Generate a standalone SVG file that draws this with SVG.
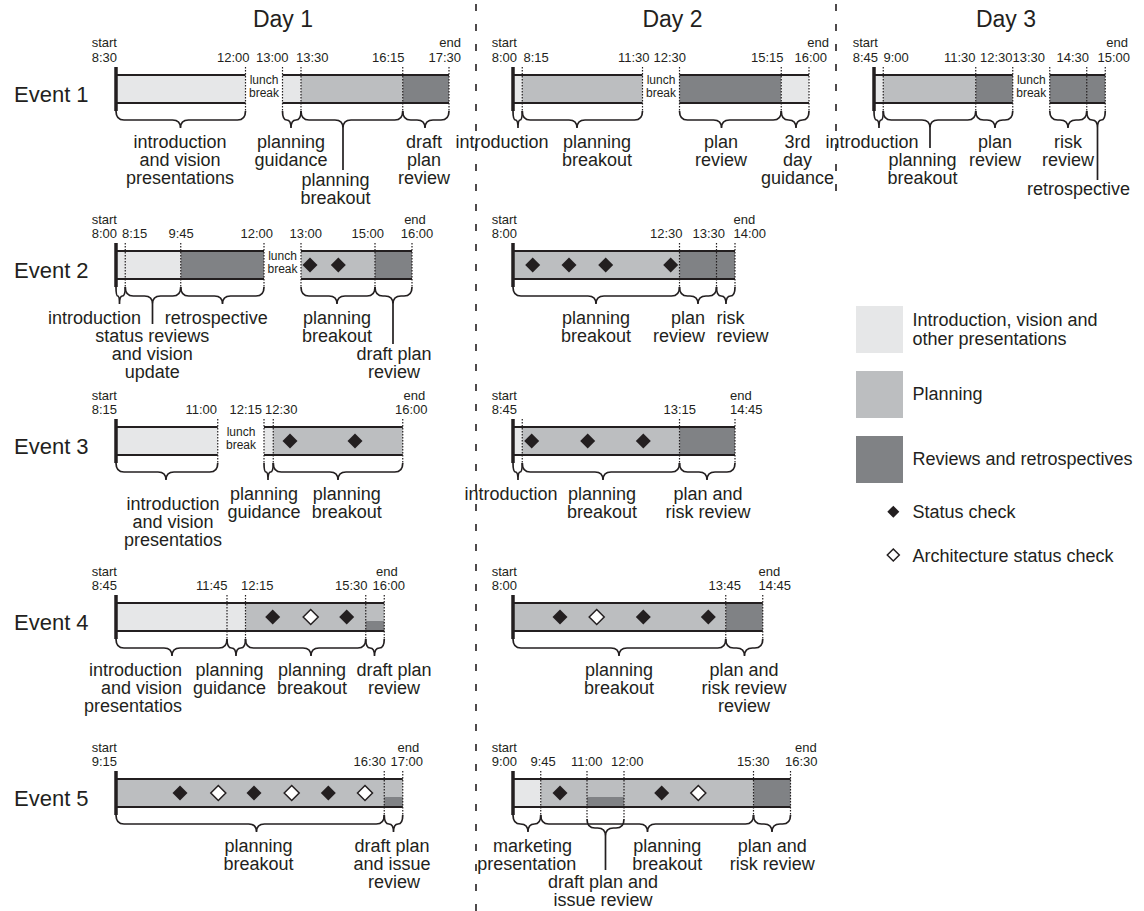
<svg xmlns="http://www.w3.org/2000/svg" width="1144" height="911" viewBox="0 0 1144 911">
<style>
text{font-family:"Liberation Sans",Arial,sans-serif;fill:#231f20}
.title{font-size:23px;text-anchor:middle}
.ev{font-size:22px}
.tm{font-size:13px}
.lab{font-size:18px;text-anchor:middle}
.lg{font-size:18px}
.lu{font-size:12px;text-anchor:middle}
.e{text-anchor:end}
.m{text-anchor:middle}
.s{text-anchor:start}
.lt{fill:#e6e7e8}
.md{fill:#bcbec0}
.dk{fill:#808285}
.edge{stroke:#231f20;stroke-width:2;fill:none}
.st{stroke:#231f20;stroke-width:3.5;fill:none}
.dot{stroke:#231f20;stroke-width:1.2;stroke-dasharray:1.5 1.5;fill:none}
.brace{stroke:#231f20;stroke-width:1.7;fill:none}
.sep{stroke:#231f20;stroke-width:1.6;stroke-dasharray:7 13;fill:none}
.bd{fill:#231f20}
.wd{fill:#fff;stroke:#231f20;stroke-width:1.5}
</style>
<defs>
<path id="dia" d="M0 -7.5L7.5 0L0 7.5L-7.5 0Z"/>
<path id="dias" d="M0 -6L6 0L0 6L-6 0Z"/>
</defs>

<g id="separators">
<path class="sep" d="M476 4V911M836 4V200"/>
</g>

<g id="titles">
<text class="title" x="283" y="27">Day 1</text>
<text class="title" x="672.5" y="27">Day 2</text>
<text class="title" x="1006" y="27">Day 3</text>
<text class="ev" x="14" y="101.5">Event 1</text>
<text class="ev" x="14" y="277.5">Event 2</text>
<text class="ev" x="14" y="453.5">Event 3</text>
<text class="ev" x="14" y="629.5">Event 4</text>
<text class="ev" x="14" y="805.5">Event 5</text>
</g>

<!-- Event 1 Day 1 -->
<g id="e1d1">
<rect class="lt" x="116" y="75" width="129.5" height="28"/>
<rect class="lt" x="282.5" y="75" width="18.5" height="28"/>
<rect class="md" x="301" y="75" width="101.75" height="28"/>
<rect class="dk" x="402.75" y="75" width="46.25" height="28"/>
<path class="edge" d="M116 75H245.5M116 103H245.5M282.5 75H449M282.5 103H449"/>
<path class="dot" d="M245.5 67V111M282.5 67V111M301 67V111M402.75 67V111M449 67V111"/>
<path class="st" d="M116 67V111"/>
<text class="tm e" x="117" y="47">start</text><text class="tm e" x="117" y="62">8:30</text>
<text class="tm" x="217" y="62">12:00</text>
<text class="tm" x="256" y="62">13:00</text>
<text class="tm" x="296" y="62">13:30</text>
<text class="tm" x="372" y="62">16:15</text>
<text class="tm e" x="461" y="47">end</text><text class="tm e" x="461" y="62">17:30</text>
<text class="lu" x="264" y="83.5">lunch</text><text class="lu" x="264" y="96.5">break</text>
<text class="lab" x="180" y="148">introduction</text><text class="lab" x="180" y="166">and vision</text><text class="lab" x="180" y="184">presentations</text>
<text class="lab" x="291" y="148">planning</text><text class="lab" x="291" y="166">guidance</text>
<text class="lab" x="335.5" y="186">planning</text><text class="lab" x="335.5" y="204">breakout</text>
<text class="lab" x="424" y="148">draft</text><text class="lab" x="424" y="166">plan</text><text class="lab" x="424" y="184">review</text>
</g>

<!-- Event 1 Day 2 -->
<g id="e1d2">
<rect class="lt" x="513" y="75" width="9.25" height="28"/>
<rect class="md" x="522.25" y="75" width="120.25" height="28"/>
<rect class="dk" x="679.5" y="75" width="101.75" height="28"/>
<rect class="lt" x="781.25" y="75" width="27.75" height="28"/>
<path class="edge" d="M513 75H642.5M513 103H642.5M679.5 75H809M679.5 103H809"/>
<path class="dot" d="M522.25 67V111M642.5 67V111M679.5 67V111M781.25 67V111M809 67V111"/>
<path class="st" d="M513 67V111"/>
<text class="tm e" x="517" y="47">start</text><text class="tm e" x="517" y="62">8:00</text>
<text class="tm" x="523.5" y="62">8:15</text>
<text class="tm" x="618" y="62">11:30</text>
<text class="tm" x="653.5" y="62">12:30</text>
<text class="tm" x="751" y="62">15:15</text>
<text class="tm e" x="829" y="47">end</text><text class="tm e" x="827" y="62">16:00</text>
<text class="lu" x="661" y="83.5">lunch</text><text class="lu" x="661" y="96.5">break</text>
<text class="lab" x="502" y="148">introduction</text>
<text class="lab" x="597" y="148">planning</text><text class="lab" x="597" y="166">breakout</text>
<text class="lab" x="721" y="148">plan</text><text class="lab" x="721" y="166">review</text>
<text class="lab" x="797.5" y="148">3rd</text><text class="lab" x="797.5" y="166">day</text><text class="lab" x="797.5" y="184">guidance</text>
</g>

<!-- Event 1 Day 3 -->
<g id="e1d3">
<rect class="lt" x="874" y="75" width="9.25" height="28"/>
<rect class="md" x="883.25" y="75" width="92.5" height="28"/>
<rect class="dk" x="975.75" y="75" width="37" height="28"/>
<rect class="dk" x="1049.75" y="75" width="55.5" height="28"/>
<path class="edge" d="M874 75H1012.75M874 103H1012.75M1049.75 75H1105.25M1049.75 103H1105.25"/>
<path class="dot" d="M883.25 67V111M975.75 67V111M1012.75 67V111M1049.75 67V111M1086.75 67V111M1105.25 67V111"/>
<path class="st" d="M874 67V111"/>
<text class="tm e" x="878" y="47">start</text><text class="tm e" x="878" y="62">8:45</text>
<text class="tm" x="883.5" y="62">9:00</text>
<text class="tm" x="944" y="62">11:30</text>
<text class="tm" x="980" y="62">12:30</text>
<text class="tm" x="1012.5" y="62">13:30</text>
<text class="tm" x="1056.5" y="62">14:30</text>
<text class="tm e" x="1128" y="47">end</text><text class="tm e" x="1130" y="62">15:00</text>
<text class="lu" x="1031.25" y="83.5">lunch</text><text class="lu" x="1031.25" y="96.5">break</text>
<text class="lab" x="872" y="148">introduction</text>
<text class="lab" x="922.5" y="166">planning</text><text class="lab" x="922.5" y="184">breakout</text>
<text class="lab" x="995" y="148">plan</text><text class="lab" x="995" y="166">review</text>
<text class="lab" x="1068" y="148">risk</text><text class="lab" x="1068" y="166">review</text>
<text class="lab" x="1078.5" y="195">retrospective</text>
</g>

<!-- Event 2 Day 1 -->
<g id="e2d1">
<rect class="lt" x="116" y="251" width="64.75" height="28"/>
<rect class="dk" x="180.75" y="251" width="83.25" height="28"/>
<rect class="md" x="301" y="251" width="74" height="28"/>
<rect class="dk" x="375" y="251" width="37" height="28"/>
<path class="edge" d="M116 251H264M116 279H264M301 251H412M301 279H412"/>
<path class="dot" d="M125.25 243V287M180.75 243V287M264 243V287M301 243V287M375 243V287M412 243V287"/>
<path class="st" d="M116 243V287"/>
<use href="#dia" class="bd" x="310" y="265"/><use href="#dia" class="bd" x="338.3" y="265"/>
<text class="tm e" x="117" y="224">start</text><text class="tm e" x="117" y="238">8:00</text>
<text class="tm" x="122" y="238">8:15</text>
<text class="tm" x="168.5" y="238">9:45</text>
<text class="tm" x="240.5" y="238">12:00</text>
<text class="tm" x="289.5" y="238">13:00</text>
<text class="tm" x="351.5" y="238">15:00</text>
<text class="tm m" x="415" y="224">end</text><text class="tm m" x="417" y="238">16:00</text>
<text class="lu" x="282.5" y="259.5">lunch</text><text class="lu" x="282.5" y="272.5">break</text>
<text class="lab" x="94.5" y="324">introduction</text>
<text class="lab" x="216.3" y="324">retrospective</text>
<text class="lab" x="152.3" y="342">status reviews</text><text class="lab" x="152.3" y="360">and vision</text><text class="lab" x="152.3" y="378">update</text>
<text class="lab" x="337" y="324">planning</text><text class="lab" x="337" y="342">breakout</text>
<text class="lab" x="394" y="360">draft plan</text><text class="lab" x="394" y="378">review</text>
</g>

<!-- Event 2 Day 2 -->
<g id="e2d2">
<rect class="md" x="513" y="251" width="166.5" height="28"/>
<rect class="dk" x="679.5" y="251" width="55.5" height="28"/>
<path class="edge" d="M513 251H735M513 279H735"/>
<path class="dot" d="M679.5 243V287M716.5 243V287M735 243V287"/>
<path class="st" d="M513 243V287"/>
<use href="#dia" class="bd" x="532.7" y="265"/><use href="#dia" class="bd" x="569" y="265"/><use href="#dia" class="bd" x="605.7" y="265"/><use href="#dia" class="bd" x="670.7" y="265"/>
<text class="tm e" x="517" y="224">start</text><text class="tm e" x="517" y="238">8:00</text>
<text class="tm" x="650" y="238">12:30</text>
<text class="tm" x="692.5" y="238">13:30</text>
<text class="tm" x="733.5" y="224">end</text><text class="tm" x="733.5" y="238">14:00</text>
<text class="lab" x="596" y="324">planning</text><text class="lab" x="596" y="342">breakout</text>
<text class="lab e" x="705" y="324">plan</text><text class="lab e" x="705" y="342">review</text>
<text class="lab s" x="716.5" y="324">risk</text><text class="lab s" x="716.5" y="342">review</text>
</g>

<!-- Event 3 Day 1 -->
<g id="e3d1">
<rect class="lt" x="116" y="427" width="101.75" height="28"/>
<rect class="lt" x="264" y="427" width="9.25" height="28"/>
<rect class="md" x="273.25" y="427" width="129.5" height="28"/>
<path class="edge" d="M116 427H217.75M116 455H217.75M264 427H402.75M264 455H402.75"/>
<path class="dot" d="M217.75 419V463M264 419V463M273.25 419V463M402.75 419V463"/>
<path class="st" d="M116 419V463"/>
<use href="#dia" class="bd" x="290" y="441"/><use href="#dia" class="bd" x="355" y="441"/>
<text class="tm e" x="117" y="400">start</text><text class="tm e" x="117" y="414">8:15</text>
<text class="tm" x="185.5" y="414">11:00</text>
<text class="tm" x="229.5" y="414">12:15</text>
<text class="tm" x="265" y="414">12:30</text>
<text class="tm" x="403.5" y="400">end</text><text class="tm" x="395" y="414">16:00</text>
<text class="lu" x="241" y="435.5">lunch</text><text class="lu" x="241" y="448.5">break</text>
<text class="lab" x="173" y="510">introduction</text><text class="lab" x="173" y="528">and vision</text><text class="lab" x="173" y="546">presentatios</text>
<text class="lab" x="264" y="500">planning</text><text class="lab" x="264" y="518">guidance</text>
<text class="lab" x="346.7" y="500">planning</text><text class="lab" x="346.7" y="518">breakout</text>
</g>

<!-- Event 3 Day 2 -->
<g id="e3d2">
<rect class="lt" x="513" y="427" width="9.25" height="28"/>
<rect class="md" x="522.25" y="427" width="157.25" height="28"/>
<rect class="dk" x="679.5" y="427" width="55.5" height="28"/>
<path class="edge" d="M513 427H735M513 455H735"/>
<path class="dot" d="M522.25 419V463M679.5 419V463M735 419V463"/>
<path class="st" d="M513 419V463"/>
<use href="#dia" class="bd" x="531.7" y="441"/><use href="#dia" class="bd" x="587.7" y="441"/><use href="#dia" class="bd" x="643.3" y="441"/>
<text class="tm e" x="517" y="400">start</text><text class="tm e" x="517" y="414">8:45</text>
<text class="tm" x="663.5" y="414">13:15</text>
<text class="tm" x="730" y="400">end</text><text class="tm" x="730" y="414">14:45</text>
<text class="lab" x="511" y="500">introduction</text>
<text class="lab" x="602" y="500">planning</text><text class="lab" x="602" y="518">breakout</text>
<text class="lab" x="708" y="500">plan and</text><text class="lab" x="708" y="518">risk review</text>
</g>

<!-- Event 4 Day 1 -->
<g id="e4d1">
<rect class="lt" x="116" y="603" width="129.5" height="28"/>
<rect class="md" x="245.5" y="603" width="138.75" height="28"/>
<rect class="dk" x="365.75" y="621" width="18.5" height="10"/>
<path class="edge" d="M116 603H384.25M116 631H384.25"/>
<path class="dot" d="M227 595V639M245.5 595V639M365.75 595V639M384.25 595V639"/>
<path class="st" d="M116 595V639"/>
<use href="#dia" class="bd" x="272.7" y="617"/><use href="#dia" class="wd" x="310.7" y="617"/><use href="#dia" class="bd" x="346.7" y="617"/>
<text class="tm e" x="117" y="576">start</text><text class="tm e" x="117" y="590">8:45</text>
<text class="tm" x="196" y="590">11:45</text>
<text class="tm" x="241" y="590">12:15</text>
<text class="tm" x="335" y="590">15:30</text>
<text class="tm" x="376" y="576">end</text><text class="tm" x="372.5" y="590">16:00</text>
<text class="lab e" x="182" y="676">introduction</text><text class="lab e" x="182" y="694">and vision</text><text class="lab e" x="182" y="712">presentatios</text>
<text class="lab" x="229.5" y="676">planning</text><text class="lab" x="229.5" y="694">guidance</text>
<text class="lab" x="312" y="676">planning</text><text class="lab" x="312" y="694">breakout</text>
<text class="lab" x="394" y="676">draft plan</text><text class="lab" x="394" y="694">review</text>
</g>

<!-- Event 4 Day 2 -->
<g id="e4d2">
<rect class="md" x="513" y="603" width="212.75" height="28"/>
<rect class="dk" x="725.75" y="603" width="37" height="28"/>
<path class="edge" d="M513 603H762.75M513 631H762.75"/>
<path class="dot" d="M725.75 595V639M762.75 595V639"/>
<path class="st" d="M513 595V639"/>
<use href="#dia" class="bd" x="560" y="617"/><use href="#dia" class="wd" x="596.7" y="617"/><use href="#dia" class="bd" x="643.3" y="617"/><use href="#dia" class="bd" x="708.3" y="617"/>
<text class="tm e" x="517" y="576">start</text><text class="tm e" x="517" y="590">8:00</text>
<text class="tm" x="708.5" y="590">13:45</text>
<text class="tm" x="758.5" y="576">end</text><text class="tm" x="758.5" y="590">14:45</text>
<text class="lab" x="619" y="676">planning</text><text class="lab" x="619" y="694">breakout</text>
<text class="lab" x="744" y="676">plan and</text><text class="lab" x="744" y="694">risk review</text><text class="lab" x="744" y="712">review</text>
</g>

<!-- Event 5 Day 1 -->
<g id="e5d1">
<rect class="md" x="116" y="779" width="286.75" height="28"/>
<rect class="dk" x="384.25" y="797" width="18.5" height="10"/>
<path class="edge" d="M116 779H402.75M116 807H402.75"/>
<path class="dot" d="M384.25 771V815M402.75 771V815"/>
<path class="st" d="M116 771V815"/>
<use href="#dia" class="bd" x="180" y="793"/><use href="#dia" class="wd" x="218.3" y="793"/><use href="#dia" class="bd" x="254" y="793"/><use href="#dia" class="wd" x="291.7" y="793"/><use href="#dia" class="bd" x="328.3" y="793"/><use href="#dia" class="wd" x="365" y="793"/>
<text class="tm e" x="117" y="752">start</text><text class="tm e" x="117" y="766">9:15</text>
<text class="tm" x="353.5" y="766">16:30</text>
<text class="tm" x="397.5" y="752">end</text><text class="tm" x="390.5" y="766">17:00</text>
<text class="lab" x="258.5" y="852">planning</text><text class="lab" x="258.5" y="870">breakout</text>
<text class="lab" x="392" y="852">draft plan</text><text class="lab" x="392" y="870">and issue</text><text class="lab" x="394" y="888">review</text>
</g>

<!-- Event 5 Day 2 -->
<g id="e5d2">
<rect class="lt" x="513" y="779" width="27.75" height="28"/>
<rect class="md" x="540.75" y="779" width="212.75" height="28"/>
<rect class="dk" x="587" y="797" width="37" height="10"/>
<rect class="dk" x="753.5" y="779" width="37" height="28"/>
<path class="edge" d="M513 779H790.5M513 807H790.5"/>
<path class="dot" d="M540.75 771V815M587 771V819M624 771V819M753.5 771V815M790.5 771V815"/>
<path class="st" d="M513 771V815"/>
<use href="#dia" class="bd" x="560" y="793"/><use href="#dia" class="bd" x="661.7" y="793"/><use href="#dia" class="wd" x="698.3" y="793"/>
<text class="tm e" x="517" y="752">start</text><text class="tm e" x="517" y="766">9:00</text>
<text class="tm" x="530.5" y="766">9:45</text>
<text class="tm" x="571" y="766">11:00</text>
<text class="tm" x="611" y="766">12:00</text>
<text class="tm" x="737" y="766">15:30</text>
<text class="tm" x="795" y="752">end</text><text class="tm" x="785" y="766">16:30</text>
<text class="lab" x="532.5" y="852">marketing</text><text class="lab" x="526.7" y="870">presentation</text>
<text class="lab" x="667.3" y="852">planning</text><text class="lab" x="667.3" y="870">breakout</text>
<text class="lab" x="772.3" y="852">plan and</text><text class="lab" x="772.3" y="870">risk review</text>
<text class="lab" x="603" y="888">draft plan and</text><text class="lab" x="603" y="906">issue review</text>
</g>

<!-- Legend -->
<g id="legend">
<rect class="lt" x="856" y="306" width="47" height="47"/>
<rect class="md" x="856" y="371" width="47" height="47"/>
<rect class="dk" x="856" y="436" width="47" height="47"/>
<text class="lg" x="912.5" y="326">Introduction, vision and</text>
<text class="lg" x="912.5" y="345">other presentations</text>
<text class="lg" x="912.5" y="400">Planning</text>
<text class="lg" x="912.5" y="465">Reviews and retrospectives</text>
<use href="#dias" class="bd" x="893.3" y="511.7"/>
<text class="lg" x="912.5" y="518">Status check</text>
<use href="#dias" class="wd" x="893.3" y="555"/>
<text class="lg" x="912.5" y="562">Architecture status check</text>
</g>

<g id="connectors">
<!-- E1 D1 -->
<path class="brace" d="M116 111Q116 120 124 120H172.5Q180.5 120 180.5 128Q180.5 120 188.5 120H237.5Q245.5 120 245.5 111"/>
<path class="brace" d="M282.5 111Q282.5 120 286.75 120Q291 120 291 128Q291 120 296 120Q301 120 301 111"/>
<path class="brace" d="M301 111Q301 120 309 120H335Q343 120 343 128Q343 120 351 120H394.75Q402.75 120 402.75 111M343 128V170"/>
<path class="brace" d="M402.75 111Q402.75 120 410.75 120H417Q425 120 425 128Q425 120 433 120H441Q449 120 449 111"/>
<!-- E1 D2 -->
<path class="brace" d="M513 111Q513 120 515.5 120Q518 120 518 128Q518 120 520.1 120Q522.25 120 522.25 111"/>
<path class="brace" d="M522.25 111Q522.25 120 530.25 120H569Q577 120 577 128Q577 120 585 120H634.5Q642.5 120 642.5 111"/>
<path class="brace" d="M679.5 111Q679.5 120 687.5 120H713.5Q721.5 120 721.5 128Q721.5 120 729.5 120H773.25Q781.25 120 781.25 111"/>
<path class="brace" d="M781.25 111Q781.25 120 788.6 120Q796 120 796 128Q796 120 802.5 120Q809 120 809 111"/>
<!-- E1 D3 -->
<path class="brace" d="M874 111Q874 120 876.5 120Q879 120 879 128Q879 120 881.1 120Q883.25 120 883.25 111"/>
<path class="brace" d="M883.25 111Q883.25 120 891.25 120H922Q930 120 930 128Q930 120 938 120H967.75Q975.75 120 975.75 111M930 128V148"/>
<path class="brace" d="M975.75 111Q975.75 120 983.75 120H987Q995 120 995 128Q995 120 1003 120H1004.75Q1012.75 120 1012.75 111"/>
<path class="brace" d="M1049.75 111Q1049.75 120 1057.75 120H1060Q1068 120 1068 128Q1068 120 1076 120H1078.75Q1086.75 120 1086.75 111"/>
<path class="brace" d="M1086.75 111Q1086.75 120 1092.1 120Q1097.5 120 1097.5 128Q1097.5 120 1101.4 120Q1105.25 120 1105.25 111M1097.5 128V180"/>
<!-- E2 D1 -->
<path class="brace" d="M116 287Q116 296 117.75 296Q119.5 296 119.5 304Q119.5 296 122.4 296Q125.25 296 125.25 287"/>
<path class="brace" d="M125.25 287Q125.25 296 133.25 296H144.5Q152.5 296 152.5 304Q152.5 296 160.5 296H172.75Q180.75 296 180.75 287M152.5 304V324"/>
<path class="brace" d="M180.75 287Q180.75 296 188.75 296H214.5Q222.5 296 222.5 304Q222.5 296 230.5 296H256Q264 296 264 287"/>
<path class="brace" d="M301 287Q301 296 309 296H329Q337 296 337 304Q337 296 345 296H367Q375 296 375 287"/>
<path class="brace" d="M375 287Q375 296 383 296H385Q393 296 393 304Q393 296 401 296H404Q412 296 412 287M393 304V344"/>
<!-- E2 D2 -->
<path class="brace" d="M513 287Q513 296 521 296H588Q596 296 596 304Q596 296 604 296H671.5Q679.5 296 679.5 287"/>
<path class="brace" d="M679.5 287Q679.5 296 687.5 296H690Q698 296 698 304Q698 296 706 296H708.5Q716.5 296 716.5 287"/>
<path class="brace" d="M716.5 287Q716.5 296 721.25 296Q726 296 726 304Q726 296 730.5 296Q735 296 735 287"/>
<!-- E3 D1 -->
<path class="brace" d="M116 463Q116 472 124 472H158Q166 472 166 480Q166 472 174 472H209.75Q217.75 472 217.75 463"/>
<path class="brace" d="M264 463Q264 472 266 472Q268 472 268 480Q268 472 270.6 472Q273.25 472 273.25 463"/>
<path class="brace" d="M273.25 463Q273.25 472 281.25 472H330Q338 472 338 480Q338 472 346 472H394.75Q402.75 472 402.75 463"/>
<!-- E3 D2 -->
<path class="brace" d="M513 463Q513 472 515.5 472Q518 472 518 480Q518 472 520.1 472Q522.25 472 522.25 463"/>
<path class="brace" d="M522.25 463Q522.25 472 530.25 472H595Q603 472 603 480Q603 472 611 472H671.5Q679.5 472 679.5 463"/>
<path class="brace" d="M679.5 463Q679.5 472 687.5 472H699Q707 472 707 480Q707 472 715 472H727Q735 472 735 463"/>
<!-- E4 D1 -->
<path class="brace" d="M116 639Q116 648 124 648H164Q172 648 172 656Q172 648 180 648H219Q227 648 227 639"/>
<path class="brace" d="M227 639Q227 648 231.5 648Q236 648 236 656Q236 648 240.75 648Q245.5 648 245.5 639"/>
<path class="brace" d="M245.5 639Q245.5 648 253.5 648H303Q311 648 311 656Q311 648 319 648H357.75Q365.75 648 365.75 639"/>
<path class="brace" d="M365.75 639Q365.75 648 370.1 648Q374.5 648 374.5 656Q374.5 648 379.4 648Q384.25 648 384.25 639"/>
<!-- E4 D2 -->
<path class="brace" d="M513 639Q513 648 521 648H611Q619 648 619 656Q619 648 627 648H717.75Q725.75 648 725.75 639"/>
<path class="brace" d="M725.75 639Q725.75 648 733.75 648H736.5Q744.5 648 744.5 656Q744.5 648 752.5 648H754.75Q762.75 648 762.75 639"/>
<!-- E5 D1 -->
<path class="brace" d="M116 815Q116 824 124 824H248.5Q256.5 824 256.5 832Q256.5 824 264.5 824H376.25Q384.25 824 384.25 815"/>
<path class="brace" d="M384.25 815Q384.25 824 388.9 824Q393.5 824 393.5 832Q393.5 824 398.1 824Q402.75 824 402.75 815"/>
<!-- E5 D2 -->
<path class="brace" d="M513 815Q513 824 520.5 824Q528 824 528 832Q528 824 534.4 824Q540.75 824 540.75 815"/>
<path class="brace" d="M540.75 815Q540.75 824 548.75 824H639.5Q647.5 824 647.5 832Q647.5 824 655.5 824H745.5Q753.5 824 753.5 815"/>
<path class="brace" d="M587 819Q587 828 595 828H597.5Q605.5 828 605.5 836Q605.5 828 613.5 828H616Q624 828 624 819M605.5 836V870"/>
<path class="brace" d="M753.5 815Q753.5 824 761.5 824H764Q772 824 772 832Q772 824 780 824H782.5Q790.5 824 790.5 815"/>
</g>
</svg>
